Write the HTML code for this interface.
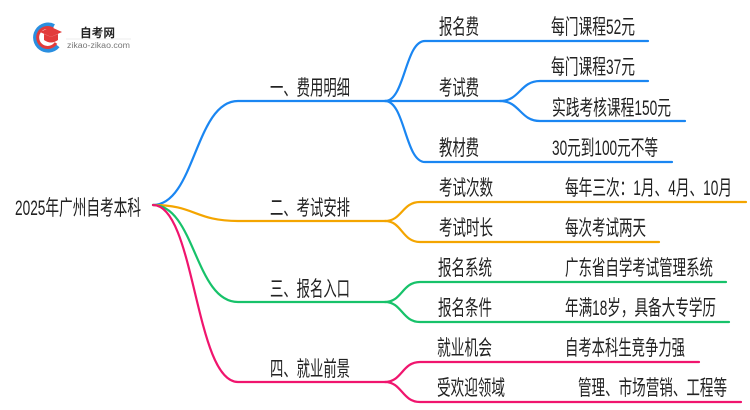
<!DOCTYPE html>
<html><head><meta charset="utf-8"><style>
html,body{margin:0;padding:0;background:#fff;}
svg{display:block;}
text{font-family:"Liberation Sans","Noto Sans CJK SC",sans-serif;fill:#222;}
</style></head><body>
<svg width="750" height="410" viewBox="0 0 750 410" xmlns="http://www.w3.org/2000/svg">
<!-- logo -->
<path d="M54 26 A13 13 0 1 0 58 46" fill="none" stroke="#2a8fe0" stroke-width="4"/>
<path d="M53 29 A10 10 0 1 0 56 43" fill="none" stroke="#e23b3b" stroke-width="3"/>
<polygon points="40,32 51,27 62,32 51,37" fill="#e23b3b"/>
<path d="M44 34 L44 40 Q51 45 58 40 L58 34 L51 37 Z" fill="#e23b3b"/>
<text x="80" y="37" font-size="12" font-weight="bold" textLength="35" lengthAdjust="spacingAndGlyphs">自考网</text>
<line x1="66" y1="39" x2="131" y2="39" stroke="#ddd" stroke-width="0.6"/>
<text x="67" y="48" font-size="8" style="fill:#777" textLength="63" lengthAdjust="spacingAndGlyphs">zikao-zikao.com</text>

<g fill="none" stroke-width="2.2" stroke-linecap="round">
<path d="M153 205 C195 205 195 101 238 101 L385 101" stroke="#1a86f2"/>
<path d="M153 205 C195 205 195 221 238 221 L385 221" stroke="#f4a500"/>
<path d="M153 205 C195 205 195 302 238 302 L385 302" stroke="#17c26a"/>
<path d="M153 205 C195 205 195 382 238 382 L385 382" stroke="#f0156e"/>
<path d="M385 101 C405 101 405 41 425 41 L648 41" stroke="#1a86f2"/>
<path d="M385 101 L500 101" stroke="#1a86f2"/>
<path d="M385 101 C405 101 405 162 425 162 L672 162" stroke="#1a86f2"/>
<path d="M500 101 C520 101 520 81 540 81 L648 81" stroke="#1a86f2"/>
<path d="M500 101 C520 101 520 121 540 121 L685 121" stroke="#1a86f2"/>
<path d="M385 221 C402 221 402 202 420 202 L746 202" stroke="#f4a500"/>
<path d="M385 221 C402 221 402 242 420 242 L659 242" stroke="#f4a500"/>
<path d="M385 302 C402 302 402 282 420 282 L726 282" stroke="#17c26a"/>
<path d="M385 302 C402 302 402 322 420 322 L729 322" stroke="#17c26a"/>
<path d="M385 382 C402 382 402 362 420 362 L699 362" stroke="#f0156e"/>
<path d="M385 382 C402 382 402 402 420 402 L741 402" stroke="#f0156e"/>
</g>

<g font-size="21">
<text x="15" y="215" textLength="126" lengthAdjust="spacingAndGlyphs">2025年广州自考本科</text>
<text x="270" y="95" textLength="80" lengthAdjust="spacingAndGlyphs">一、费用明细</text>
<text x="270" y="215" textLength="80" lengthAdjust="spacingAndGlyphs">二、考试安排</text>
<text x="270" y="296" textLength="80" lengthAdjust="spacingAndGlyphs">三、报名入口</text>
<text x="270" y="376" textLength="80" lengthAdjust="spacingAndGlyphs">四、就业前景</text>

<text x="439" y="34" textLength="40" lengthAdjust="spacingAndGlyphs">报名费</text>
<text x="551" y="34" textLength="84" lengthAdjust="spacingAndGlyphs">每门课程52元</text>
<text x="551" y="74" textLength="84" lengthAdjust="spacingAndGlyphs">每门课程37元</text>
<text x="439" y="95" textLength="40" lengthAdjust="spacingAndGlyphs">考试费</text>
<text x="552" y="115" textLength="119" lengthAdjust="spacingAndGlyphs">实践考核课程150元</text>
<text x="439" y="155" textLength="40" lengthAdjust="spacingAndGlyphs">教材费</text>
<text x="552" y="155" textLength="106" lengthAdjust="spacingAndGlyphs">30元到100元不等</text>

<text x="439" y="195" textLength="54" lengthAdjust="spacingAndGlyphs">考试次数</text>
<text x="565" y="195" textLength="167" lengthAdjust="spacingAndGlyphs">每年三次：1月、4月、10月</text>
<text x="439" y="235" textLength="54" lengthAdjust="spacingAndGlyphs">考试时长</text>
<text x="565" y="235" textLength="81" lengthAdjust="spacingAndGlyphs">每次考试两天</text>

<text x="438" y="275" textLength="54" lengthAdjust="spacingAndGlyphs">报名系统</text>
<text x="565" y="275" textLength="148" lengthAdjust="spacingAndGlyphs">广东省自学考试管理系统</text>
<text x="438" y="315" textLength="54" lengthAdjust="spacingAndGlyphs">报名条件</text>
<text x="565" y="315" textLength="151" lengthAdjust="spacingAndGlyphs">年满18岁，具备大专学历</text>

<text x="437" y="355" textLength="55" lengthAdjust="spacingAndGlyphs">就业机会</text>
<text x="565" y="355" textLength="120" lengthAdjust="spacingAndGlyphs">自考本科生竞争力强</text>
<text x="437" y="395" textLength="68" lengthAdjust="spacingAndGlyphs">受欢迎领域</text>
<text x="578" y="395" textLength="149" lengthAdjust="spacingAndGlyphs">管理、市场营销、工程等</text>
</g>
</svg>
</body></html>
